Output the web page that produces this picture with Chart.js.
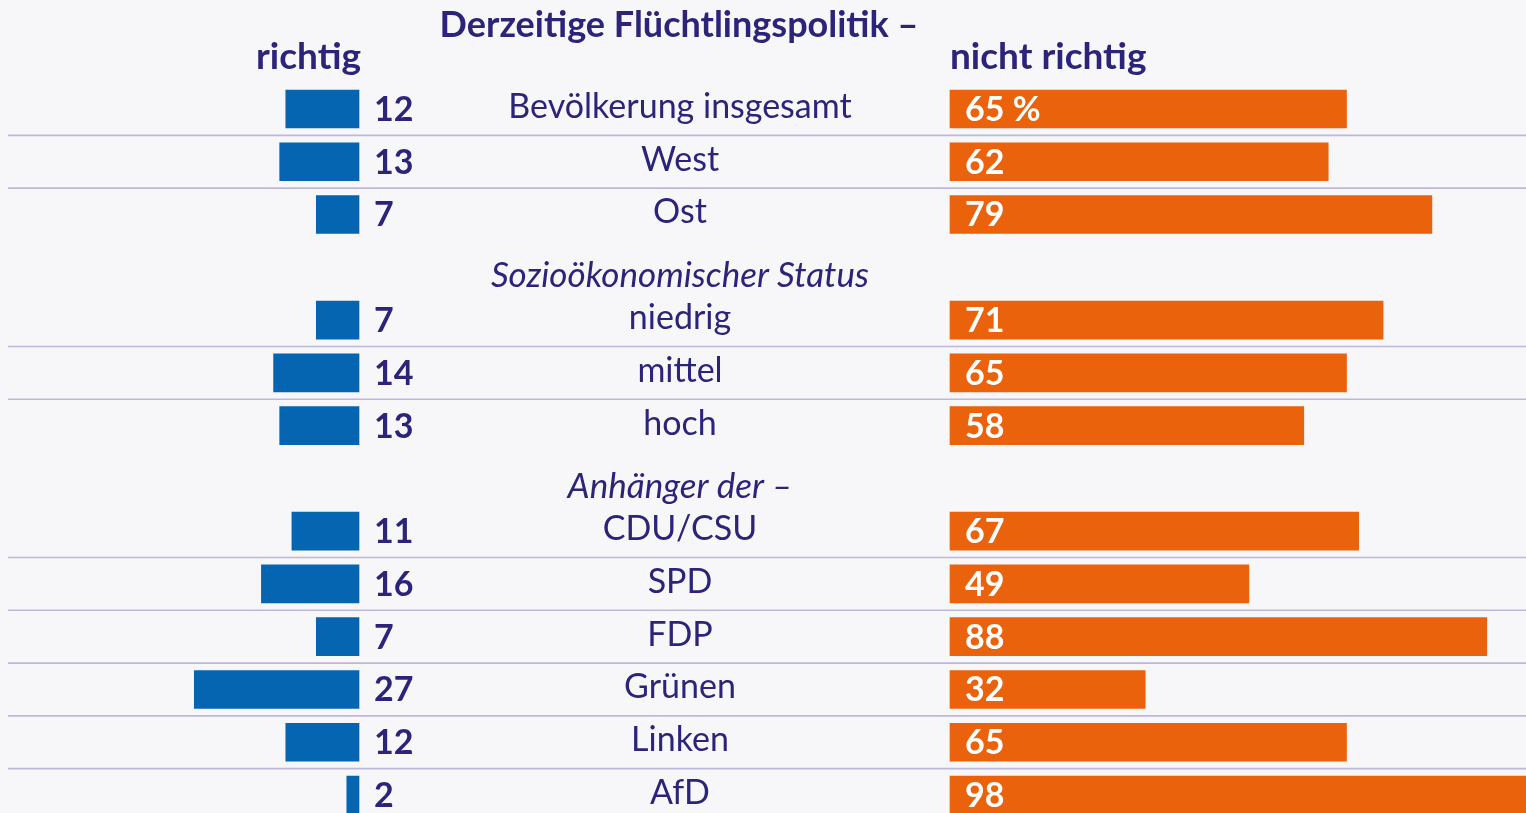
<!DOCTYPE html>
<html>
<head>
<meta charset="utf-8">
<script src="https://cdn.jsdelivr.net/npm/chart.js@4/dist/chart.umd.min.js"></script>
<style>
  html, body { margin: 0; padding: 0; background: #f7f7f9; overflow: hidden; }
  #wrap { width: 1526px; height: 813px; overflow: hidden; }
  canvas { display: block; }
</style>
</head>
<body>
<div id="wrap"><canvas id="c" width="1526" height="840"></canvas></div>
<script>
// ---- data ----
const categories = ['Bevölkerung insgesamt', 'West', 'Ost', 'Sozioökonomischer Status', 'niedrig', 'mittel', 'hoch', 'Anhänger der –', 'CDU/CSU', 'SPD', 'FDP', 'Grünen', 'Linken', 'AfD'];
const richtig = [12, 13, 7, null, 7, 14, 13, null, 11, 16, 7, 27, 12, 2];
const nichtRichtig = [65, 62, 79, null, 71, 65, 58, null, 67, 49, 88, 32, 65, 98];
const sectionHeaders = ['Sozioökonomischer Status', 'Anhänger der –'];
const titleText = 'Derzeitige Flüchtlingspolitik –';
const leftHeader = 'richtig';
const rightHeader = 'nicht richtig';

// ---- layout (positions in scale units / pixels) ----
const X_MAX = 1526 / 6.1;
const LEFT_END = 359 / 6.1;
const RIGHT_START = 950 / 6.1;

const NAVY = '#2b2479';
const BLUE = '#0565b1';
const ORANGE = '#ea620b';
const FONT = 'Lato, "Open Sans", sans-serif';

const leftData = richtig.map(v => v == null ? null : [LEFT_END - v, LEFT_END]);
const rightData = nichtRichtig.map(v => v == null ? null : [RIGHT_START, RIGHT_START + v]);

const textPlugin = {
  id: 'texts',
  beforeDatasetsDraw(chart) {
    const ctx = chart.ctx;
    const y = chart.scales.y;
    ctx.save();
    ctx.strokeStyle = '#bcb8da';
    ctx.lineWidth = 1.6;
    for (let i = 0; i < categories.length - 1; i++) {
      if (richtig[i] != null && richtig[i + 1] != null) {
        const yy = (y.getPixelForValue(i) + y.getPixelForValue(i + 1)) / 2;
        ctx.beginPath();
        ctx.moveTo(8, yy);
        ctx.lineTo(1526, yy);
        ctx.stroke();
      }
    }
    ctx.restore();
  },
  afterDatasetsDraw(chart) {
    const ctx = chart.ctx;
    const y = chart.scales.y;
    const x = chart.scales.x;
    ctx.save();
    ctx.textBaseline = 'middle';
    // title + column headers
    ctx.fillStyle = NAVY;
    ctx.font = 'bold 36px ' + FONT;
    ctx.textAlign = 'center';
    ctx.fillText(titleText, 679, 25);
    ctx.font = 'bold 37px ' + FONT;
    ctx.textAlign = 'right';
    ctx.fillText(leftHeader, x.getPixelForValue(LEFT_END) + 2, 57);
    ctx.textAlign = 'left';
    ctx.fillText(rightHeader, x.getPixelForValue(RIGHT_START), 57);

    categories.forEach((lab, i) => {
      const py = y.getPixelForValue(i);
      ctx.textAlign = 'center';
      ctx.fillStyle = NAVY;
      if (sectionHeaders.includes(lab)) {
        ctx.font = 'italic 35px ' + FONT;
        ctx.fillText(lab, 680, py + 8);
        return;
      }
      ctx.font = '34px ' + FONT;
      ctx.fillText(lab, 680, py - 2);
      ctx.font = 'bold 34px ' + FONT;
      ctx.textAlign = 'left';
      ctx.fillText(String(richtig[i]), x.getPixelForValue(LEFT_END) + 15, py + 1);
      ctx.fillStyle = '#ffffff';
      ctx.fillText(String(nichtRichtig[i]) + (i === 0 ? ' %' : ''), x.getPixelForValue(RIGHT_START) + 15, py + 1);
    });
    ctx.restore();
  }
};

new Chart(document.getElementById('c'), {
  type: 'bar',
  data: {
    labels: categories,
    datasets: [
      { label: leftHeader, data: leftData, backgroundColor: BLUE, grouped: false, barThickness: 38, borderWidth: 0 },
      { label: rightHeader, data: rightData, backgroundColor: ORANGE, grouped: false, barThickness: 38, borderWidth: 0 }
    ]
  },
  options: {
    indexAxis: 'y',
    responsive: false,
    animation: false,
    layout: { padding: { top: 82.6, bottom: 18.6, left: 0, right: 0 } },
    plugins: { legend: { display: false }, tooltip: { enabled: false } },
    scales: {
      x: { type: 'linear', min: 0, max: X_MAX, display: false },
      y: { type: 'category', display: false, offset: true }
    }
  },
  plugins: [textPlugin]
});
</script>
</body>
</html>
